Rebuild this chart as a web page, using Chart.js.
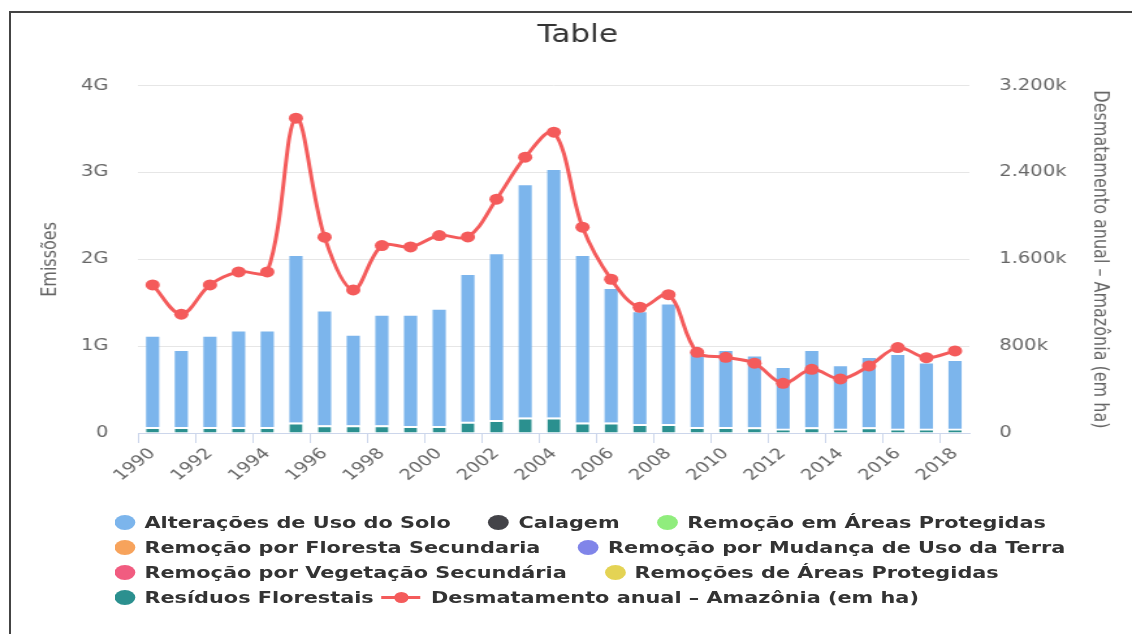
<!DOCTYPE html>
<html>
<head>
<meta charset="utf-8">
<title>Table</title>
<script src="https://cdn.jsdelivr.net/npm/chart.js@4.4.1/dist/chart.umd.min.js"></script>
<style>
  html, body { margin: 0; padding: 0; background: #fff; overflow: hidden; }
  #stage { position: absolute; left: 0; top: 0; width: 870px; height: 634px; transform: scaleX(1.30115); transform-origin: 0 0; }
  #chart { position: absolute; left: 0; top: 0; }
  #legend { position: absolute; left: 88px; top: 510px; font: bold 16px "DejaVu Sans", sans-serif; color: #333; }
  .legend-row { display: flex; align-items: center; height: 25px; white-space: nowrap; }
  .legend-item { display: flex; align-items: center; margin-right: 29px; }
  .legend-dot { width: 16px; height: 15px; border-radius: 50%; margin-right: 7px; }
  .legend-line { position: relative; width: 30px; height: 3px; margin-left: -23px; margin-right: 8px; }
  .legend-line::after { content: ''; position: absolute; left: 10px; top: -4px; width: 11px; height: 11px; border-radius: 50%; background: inherit; }
  #frame { position: absolute; left: 9px; top: 11px; width: 1200px; height: 700px; border-top: 2px solid #444; border-left: 2px solid #444; pointer-events: none; }
</style>
</head>
<body>
<div id="stage">
  <canvas id="chart" width="870" height="634"></canvas>
  <div id="legend"></div>
</div>
<div id="frame"></div>
<script>
const years = ['1990', '1991', '1992', '1993', '1994', '1995', '1996', '1997', '1998', '1999',
    '2000', '2001', '2002', '2003', '2004', '2005', '2006', '2007', '2008', '2009',
    '2010', '2011', '2012', '2013', '2014', '2015', '2016', '2017', '2018'];

// emissões (t CO2e)
const alteracoesUsoSolo = [1.04e9, 0.875e9, 1.04e9, 1.10e9, 1.10e9, 1.92e9, 1.31e9, 1.03e9, 1.26e9, 1.27e9,
    1.34e9, 1.69e9, 1.91e9, 2.675e9, 2.85e9, 1.92e9, 1.54e9, 1.285e9, 1.375e9, 0.85e9,
    0.875e9, 0.815e9, 0.70e9, 0.88e9, 0.72e9, 0.80e9, 0.85e9, 0.75e9, 0.78e9];
const residuosFlorestais = [0.07e9, 0.07e9, 0.07e9, 0.07e9, 0.07e9, 0.12e9, 0.09e9, 0.09e9, 0.09e9, 0.08e9,
    0.08e9, 0.13e9, 0.15e9, 0.18e9, 0.18e9, 0.12e9, 0.12e9, 0.105e9, 0.105e9, 0.07e9,
    0.07e9, 0.065e9, 0.05e9, 0.065e9, 0.05e9, 0.065e9, 0.05e9, 0.05e9, 0.05e9];
const calagem = [];
const remocaoAreasProtegidas = [];
const remocaoFlorestaSecundaria = [];
const remocaoMudancaUso = [];
const remocaoVegetacaoSecundaria = [];
const remocoesAreasProtegidas = [];

// desmatamento anual (ha)
const desmatamento = [1365000, 1095000, 1365000, 1485000, 1485000, 2902000, 1805000, 1319000, 1727000, 1715000,
    1820000, 1807000, 2155000, 2542000, 2773000, 1897000, 1417000, 1159000, 1275000, 744000,
    698000, 643000, 458000, 587000, 498000, 618000, 787000, 694000, 756000];

const leftTicks = [0, 1e9, 2e9, 3e9, 4e9];
const rightTicks = [0, 800000, 1600000, 2400000, 3200000];

const barSeries = [
    { label: 'Alterações de Uso do Solo', color: '#7cb5ec', data: alteracoesUsoSolo },
    { label: 'Calagem', color: '#434348', data: calagem },
    { label: 'Remoção em Áreas Protegidas', color: '#90ed7d', data: remocaoAreasProtegidas },
    { label: 'Remoção por Floresta Secundaria', color: '#f7a35c', data: remocaoFlorestaSecundaria },
    { label: 'Remoção por Mudança de Uso da Terra', color: '#8085e9', data: remocaoMudancaUso },
    { label: 'Remoção por Vegetação Secundária', color: '#f15c80', data: remocaoVegetacaoSecundaria },
    { label: 'Remoções de Áreas Protegidas', color: '#e4d354', data: remocoesAreasProtegidas },
    { label: 'Resíduos Florestais', color: '#2b908f', data: residuosFlorestais }
];
const lineLabel = 'Desmatamento anual – Amazônia (em ha)';
const lineColor = '#f45b5b';

function thousands(n) {
    return String(n).replace(/\B(?=(\d{3})+(?!\d))/g, '.');
}

Chart.defaults.font.family = '"DejaVu Sans", sans-serif';

const datasets = [{
    type: 'line',
    label: lineLabel,
    data: desmatamento,
    yAxisID: 'y1',
    borderColor: lineColor,
    backgroundColor: lineColor,
    borderWidth: 3,
    pointRadius: 5.5,
    pointBorderWidth: 0,
    tension: 0.35,
    order: 0
}];

// Highcharts stacks the first series on top, so push them reversed
barSeries.slice().reverse().forEach((s, i, arr) => {
    const isTop = i === arr.length - 1;
    datasets.push({
        type: 'bar',
        label: s.label,
        data: s.data,
        yAxisID: 'y',
        backgroundColor: s.color,
        borderColor: '#ffffff',
        borderWidth: { top: isTop ? 0 : 2, left: 0, right: 0, bottom: 0 },
        borderSkipped: false,
        barPercentage: 0.46,
        categoryPercentage: 1,
        order: 1
    });
});

new Chart(document.getElementById('chart'), {
    data: { labels: years, datasets: datasets },
    options: {
        responsive: false,
        animation: false,
        devicePixelRatio: 1,
        layout: { padding: { left: 18, right: 0, top: 0, bottom: 141 } },
        plugins: {
            legend: { display: false },
            tooltip: { enabled: false },
            title: {
                display: true,
                text: 'Table',
                color: '#333333',
                font: { size: 24, weight: 'normal' },
                padding: { top: 21, bottom: 36 }
            }
        },
        scales: {
            x: {
                stacked: true,
                grid: {
                    drawOnChartArea: false,
                    tickLength: 10,
                    color: ctx => ctx.index % 2 === 0 ? '#ccd6eb' : 'rgba(0,0,0,0)'
                },
                border: { color: '#ccd6eb' },
                ticks: {
                    autoSkip: false,
                    maxRotation: 45,
                    minRotation: 45,
                    padding: 2,
                    color: '#666666',
                    font: { size: 15 },
                    callback: function (v, i) { return i % 2 === 0 ? years[i] : ''; }
                },
                afterFit: s => { s.height = 60; }
            },
            y: {
                stacked: true,
                position: 'left',
                min: 0,
                max: leftTicks[leftTicks.length - 1],
                afterBuildTicks: s => { s.ticks = leftTicks.map(v => ({ value: v })); },
                grid: {
                    drawTicks: false,
                    color: ctx => ctx.index === 0 ? '#ccd6eb' : '#e6e6e6'
                },
                border: { display: false },
                ticks: {
                    padding: 23,
                    color: '#666666',
                    font: { size: 15 },
                    callback: v => v === 0 ? '0' : (v / 1e9) + 'G'
                },
                title: {
                    display: true,
                    text: 'Emissões',
                    color: '#666666',
                    font: { size: 16 },
                    padding: { top: 11, bottom: 0 }
                },
                afterFit: s => { s.width = 88.3; }
            },
            y1: {
                position: 'right',
                min: 0,
                max: rightTicks[rightTicks.length - 1],
                afterBuildTicks: s => { s.ticks = rightTicks.map(v => ({ value: v })); },
                grid: { drawOnChartArea: false, drawTicks: false },
                border: { display: false },
                ticks: {
                    padding: 23,
                    color: '#666666',
                    font: { size: 15 },
                    callback: v => v === 0 ? '0' : thousands(v / 1000) + 'k'
                },
                title: {
                    display: true,
                    text: lineLabel,
                    color: '#666666',
                    font: { size: 16 },
                    padding: { top: 15, bottom: 0 }
                },
                afterFit: s => { s.width = 125; }
            }
        }
    }
});

// legend rows as in the original (left aligned, flowing)
const legendItems = barSeries.map(s => ({ label: s.label, color: s.color, line: false }));
legendItems.push({ label: lineLabel, color: lineColor, line: true });
const legendRows = [[0, 1, 2], [3, 4], [5, 6], [7, 8]];

const legendEl = document.getElementById('legend');
legendRows.forEach(row => {
    const rowEl = document.createElement('div');
    rowEl.className = 'legend-row';
    row.forEach(i => {
        const item = legendItems[i];
        const itemEl = document.createElement('div');
        itemEl.className = 'legend-item';
        const sym = document.createElement('span');
        sym.className = item.line ? 'legend-line' : 'legend-dot';
        sym.style.background = item.color;
        const txt = document.createElement('span');
        txt.textContent = item.label;
        itemEl.appendChild(sym);
        itemEl.appendChild(txt);
        rowEl.appendChild(itemEl);
    });
    legendEl.appendChild(rowEl);
});
</script>
</body>
</html>
